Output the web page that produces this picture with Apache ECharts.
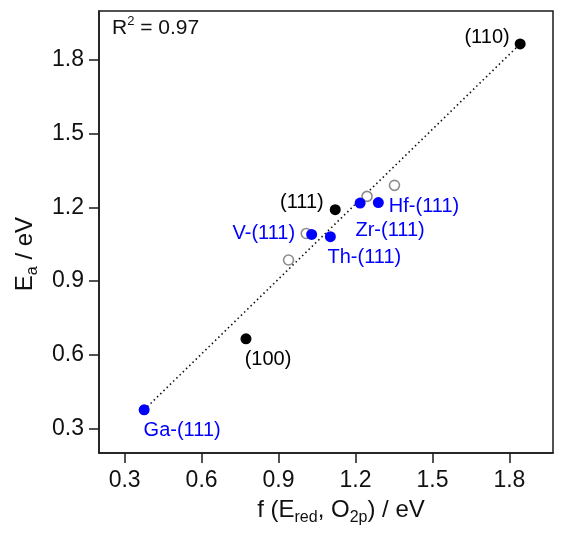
<!DOCTYPE html>
<html>
<head>
<meta charset="utf-8">
<script src="https://cdn.jsdelivr.net/npm/echarts@6/dist/echarts.min.js"></script>
<style>
html, body { margin: 0; padding: 0; background: #fff; }
#chart { width: 563px; height: 536px; }
</style>
</head>
<body>
<div id="chart"></div>
<script>
// tick positions on both axes
var xTicks = [0.3, 0.6, 0.9, 1.2, 1.5, 1.8];
var yTicks = [0.3, 0.6, 0.9, 1.2, 1.5, 1.8];

// bulk facets (black)
var blackNames = ['(110)', '(111)', '(100)'];
var blackPoints = [[1.842, 1.866], [1.121, 1.191], [0.773, 0.665]];

// doped (111) surfaces (blue)
var blueNames = ['Ga-(111)', 'V-(111)', 'Th-(111)', 'Zr-(111)', 'Hf-(111)'];
var bluePoints = [[0.376, 0.376], [1.029, 1.090], [1.102, 1.081], [1.218, 1.218], [1.289, 1.220]];

// other dopants (open grey circles)
var greyPoints = [[1.008, 1.094], [1.245, 1.245], [1.352, 1.290], [0.939, 0.986]];

// linear fit
var fitLine = [[0.376, 0.376], [1.842, 1.866]];
var r2Value = '0.97';

var FONT = 'Liberation Sans, Arial, sans-serif';

// where each label sits around its point
var labelPlace = {
    '(110)': { position: 'left', offset: [0, -6] },
    '(111)': { position: 'left', offset: [-1, -7] },
    '(100)': { position: 'bottom', offset: [22, 0] },
    'Ga-(111)': { position: 'bottom', offset: [38, 0] },
    'V-(111)': { position: 'left', offset: [-6, -1] },
    'Th-(111)': { position: 'bottom', offset: [34, 0] },
    'Zr-(111)': { position: 'bottom', offset: [30, 7] },
    'Hf-(111)': { position: 'right', offset: [0, 4] }
};

function withLabels(names, points, color) {
    return points.map(function (p, i) {
        var place = labelPlace[names[i]];
        return {
            name: names[i],
            value: p,
            label: {
                show: true,
                formatter: '{b}',
                position: place.position,
                offset: place.offset,
                color: color,
                opacity: 1,
                fontSize: 20,
                fontFamily: FONT
            }
        };
    });
}

var tickFmt = function (v) { return v.toFixed(1); };
var axisCol = '#1a1a1a';

var option = {
    backgroundColor: '#fff',
    animation: false,
    grid: {
        left: 99, right: 10, top: 11, bottom: 83,
        show: true,
        borderColor: axisCol,
        borderWidth: 1.5,
        backgroundColor: 'transparent'
    },
    xAxis: {
        type: 'value',
        min: 0.2,
        max: 1.97,
        splitLine: { show: false },
        axisLine: { show: true, lineStyle: { color: axisCol, width: 1.5 } },
        axisTick: { show: true, length: 10, inside: false, customValues: xTicks, lineStyle: { color: axisCol, width: 1.5 } },
        axisLabel: { customValues: xTicks, formatter: tickFmt, color: '#111', fontSize: 23, fontFamily: FONT, margin: 16 }
    },
    yAxis: {
        type: 'value',
        min: 0.2,
        max: 2.0,
        splitLine: { show: false },
        axisLine: { show: true, lineStyle: { color: axisCol, width: 1.5 } },
        axisTick: { show: true, length: 10, inside: false, customValues: yTicks, lineStyle: { color: axisCol, width: 1.5 } },
        axisLabel: { customValues: yTicks, formatter: tickFmt, color: '#111', fontSize: 23, fontFamily: FONT, margin: 15 }
    },
    graphic: [
        {
            type: 'text', left: 112, top: 15,
            style: {
                text: '{m|R}{s|2}{m| = ' + r2Value + '}',
                rich: {
                    m: { fontSize: 21, fontFamily: FONT, fill: '#111', lineHeight: 26 },
                    s: { fontSize: 13, fontFamily: FONT, fill: '#111', lineHeight: 13, verticalAlign: 'top' }
                }
            }
        },
        {
            type: 'text', x: 341, y: 510,
            style: {
                text: '{m|f (E}{s|red}{m|, O}{s|2p}{m|) / eV}',
                align: 'center', verticalAlign: 'middle',
                rich: {
                    m: { fontSize: 24, fontFamily: FONT, fill: '#111', lineHeight: 32 },
                    s: { fontSize: 16, fontFamily: FONT, fill: '#111', lineHeight: 15, verticalAlign: 'bottom' }
                }
            }
        },
        {
            type: 'text', x: 25, y: 254, rotation: Math.PI / 2,
            style: {
                text: '{m|E}{s|a}{m| / eV}',
                align: 'center', verticalAlign: 'middle',
                rich: {
                    m: { fontSize: 24, fontFamily: FONT, fill: '#111', lineHeight: 32 },
                    s: { fontSize: 16, fontFamily: FONT, fill: '#111', lineHeight: 15, verticalAlign: 'bottom' }
                }
            }
        }
    ],
    series: [
        {
            name: 'fit',
            type: 'line',
            data: fitLine,
            symbol: 'none',
            lineStyle: { color: '#111', width: 1.6, type: [1.5, 3], opacity: 1 },
            z: 1
        },
        {
            name: 'other',
            type: 'scatter',
            data: greyPoints,
            symbolSize: 10,
            itemStyle: { color: '#fff', borderColor: '#8c8c8c', borderWidth: 1.6, opacity: 1 },
            z: 2
        },
        {
            name: 'bulk',
            type: 'scatter',
            data: withLabels(blackNames, blackPoints, '#000'),
            symbolSize: 11,
            itemStyle: { color: '#000', opacity: 1 },
            z: 3
        },
        {
            name: 'doped',
            type: 'scatter',
            data: withLabels(blueNames, bluePoints, '#0000ff'),
            symbolSize: 11,
            itemStyle: { color: '#0000ff', opacity: 1 },
            z: 4
        }
    ]
};

var chart = echarts.init(document.getElementById('chart'), null, { renderer: 'canvas' });
chart.setOption(option);
</script>
</body>
</html>
